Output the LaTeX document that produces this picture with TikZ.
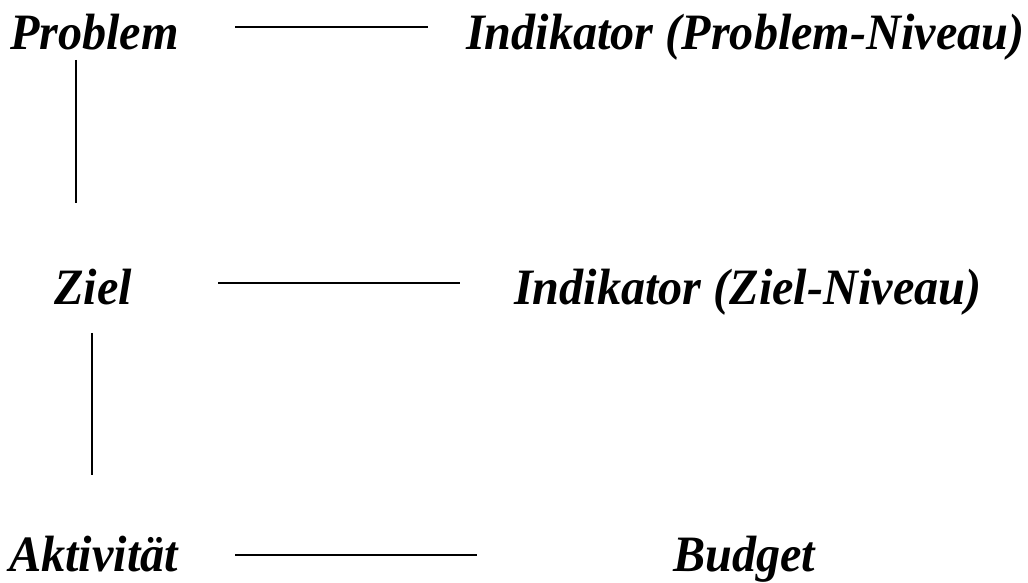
\documentclass[tikz,border=0pt]{standalone}
\usepackage{fontspec}
\setmainfont[FakeStretch=0.945]{Liberation Serif}
\begin{document}
\begin{tikzpicture}[x=1pt,y=1pt,
  lbl/.style={inner sep=0pt, anchor=base west, font=\fontsize{51}{55}\selectfont\bfseries\itshape},
  conn/.style={line width=2pt}]
\useasboundingbox (0,0) rectangle (1028,583);
\node[lbl] (prob) at (10,533) {Problem};
\node[lbl] (indp) at (466,533) {Indikator (Problem-Niveau)};
\node[lbl] (ziel) at (54,278) {Ziel};
\node[lbl] (indz) at (514,278) {Indikator (Ziel-Niveau)};
\node[lbl] (akt) at (9,11) {Aktivität};
\node[lbl] (bud) at (673,11) {Budget};
\coordinate (p1) at (235,556);
\coordinate (p2) at (428,556);
\coordinate (v1) at (76,523);
\coordinate (v2) at (76,380);
\coordinate (z1) at (218,300);
\coordinate (z2) at (460,300);
\coordinate (v3) at (92,250);
\coordinate (v4) at (92,108);
\coordinate (a1) at (235,28);
\coordinate (a2) at (477,28);
\draw[conn] (p1) -- (p2);
\draw[conn] (v1) -- (v2);
\draw[conn] (z1) -- (z2);
\draw[conn] (v3) -- (v4);
\draw[conn] (a1) -- (a2);
\end{tikzpicture}
\end{document}
